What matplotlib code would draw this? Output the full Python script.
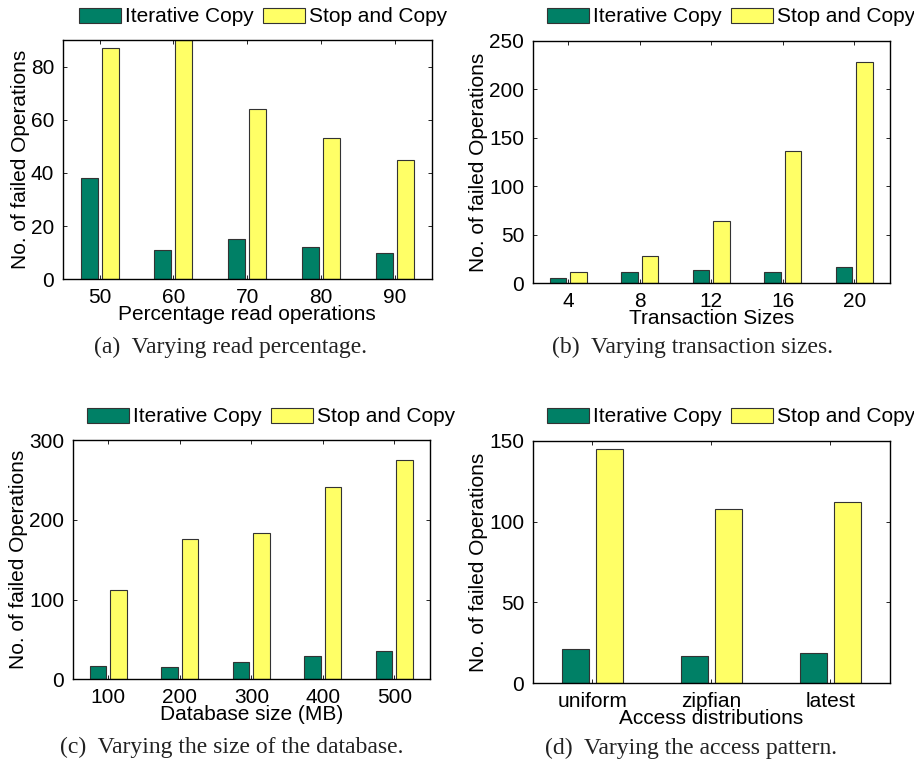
import numpy as np
import matplotlib
matplotlib.use("Agg")
import matplotlib.pyplot as plt

W, H = 914, 762

series_names = ["Iterative Copy", "Stop and Copy"]
colors = ["#008066", "#ffff66"]

# (a) read percentage
read_cats = ["50", "60", "70", "80", "90"]
read_iter = [38, 11, 15, 12, 10]
read_stop = [87, 90, 64, 53, 45]

# (b) transaction sizes
txn_cats = ["4", "8", "12", "16", "20"]
txn_iter = [5, 12, 14, 12, 17]
txn_stop = [12, 28, 64, 136, 228]

# (c) database size
db_cats = ["100", "200", "300", "400", "500"]
db_iter = [17, 16, 22, 29, 36]
db_stop = [112, 176, 183, 241, 275]

# (d) access distribution
dist_cats = ["uniform", "zipfian", "latest"]
dist_iter = [21, 17, 19]
dist_stop = [145, 108, 112]

plt.rcParams["font.family"] = ["Liberation Sans", "DejaVu Sans"]

fig = plt.figure(figsize=(W / 100, H / 100), dpi=100)


def px_axes(left, top, right, bottom):
    return fig.add_axes([left / W, 1 - bottom / H, (right - left) / W, (bottom - top) / H])


def panel(rect, cats, iters, stops, ymax, yticks, xlabel, caption, cap_xy, leg_xy):
    ax = px_axes(*rect)
    x = np.arange(len(cats))
    off, bw = 0.143, 0.23
    h1 = ax.bar(x - off, iters, bw, color=colors[0], edgecolor="#333333", linewidth=0.8)
    h2 = ax.bar(x + off, stops, bw, color=colors[1], edgecolor="#333333", linewidth=0.8)
    ax.set_xlim(-0.5, len(cats) - 0.5)
    ax.set_ylim(0, ymax)
    ax.set_xticks(x)
    ax.set_xticklabels(cats)
    ax.set_yticks(yticks)
    ax.tick_params(direction="in", length=3, width=0.6, labelsize=15, pad=6,
                   top=True, right=True)
    for s in ax.spines.values():
        s.set_linewidth(1.0)
    ax.set_xlabel(xlabel, fontsize=15, labelpad=-1)
    ax.set_ylabel("No. of failed Operations", fontsize=15, labelpad=1)
    fig.legend([h1, h2], series_names, loc="center left",
               bbox_to_anchor=(leg_xy[0] / W, 1 - leg_xy[1] / H),
               ncol=2, frameon=False, fontsize=15, handlelength=2.0,
               handleheight=0.75, handletextpad=0.2, columnspacing=0.45,
               borderpad=0, borderaxespad=0)
    fig.text(cap_xy[0] / W, 1 - cap_xy[1] / H, caption, ha="center", va="center",
             fontsize=17, family=["Liberation Serif", "DejaVu Serif"], color="#222222")
    return ax


panel((62.7, 40, 431.7, 279.3), read_cats, read_iter, read_stop, 90,
      [0, 20, 40, 60, 80], "Percentage read operations",
      "(a)  Varying read percentage.", (231, 347), (79, 17))
panel((532.7, 40.7, 890, 283.3), txn_cats, txn_iter, txn_stop, 250,
      [0, 50, 100, 150, 200, 250], "Transaction Sizes",
      "(b)  Varying transaction sizes.", (692, 347), (547, 17))
panel((72.7, 440, 430, 679.3), db_cats, db_iter, db_stop, 300,
      [0, 100, 200, 300], "Database size (MB)",
      "(c)  Varying the size of the database.", (232, 747), (87, 417))
panel((532.7, 440.7, 890, 683.3), dist_cats, dist_iter, dist_stop, 150,
      [0, 50, 100, 150], "Access distributions",
      "(d)  Varying the access pattern.", (691, 748), (547, 417))

fig.savefig("out.png", dpi=100)
